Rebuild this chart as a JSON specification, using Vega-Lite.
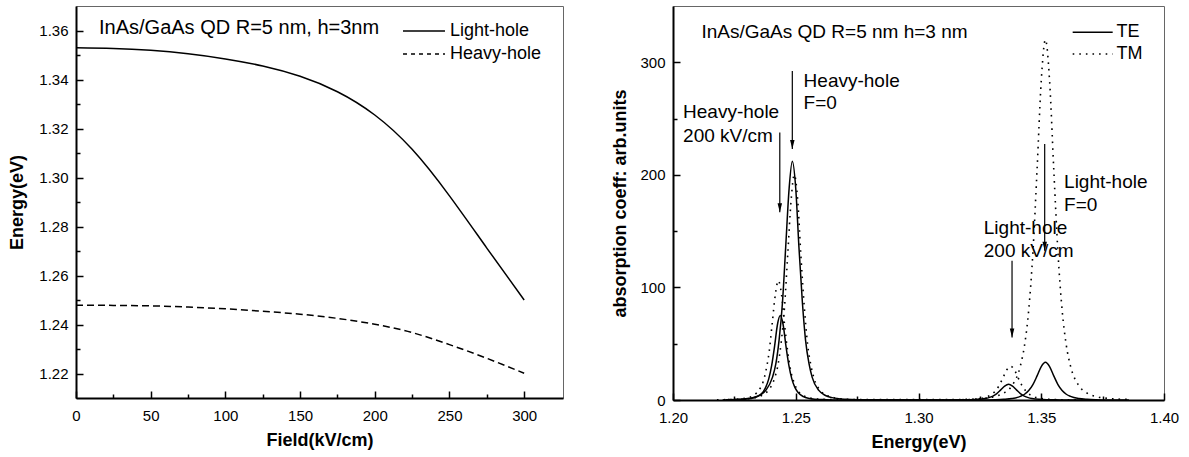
{
"$schema": "https://vega.github.io/schema/vega-lite/v6.json",
"background": "white",
"padding": {"left": 8, "top": 5, "right": 0, "bottom": 0},
"spacing": 47,
"config": {
  "font": "Liberation Sans",
  "view": {"stroke": "#666", "strokeWidth": 1},
  "axis": {"grid": false, "zindex": 1, "domainColor": "black", "domainWidth": 2, "tickColor": "black", "tickWidth": 1.5, "tickSize": -7,
    "labelFont": "Liberation Sans", "labelFontSize": 15, "labelColor": "black", "labelFlush": false, "labelOverlap": false,
    "titleFont": "Liberation Sans", "titleFontSize": 18, "titleFontWeight": "bold", "titleColor": "black"},
  "text": {"font": "Liberation Sans", "color": "black"}
},
"datasets": {
  "levels": [
    {"F":0,"E":1.3530,"band":"Light-hole"},{"F":25,"E":1.3527,"band":"Light-hole"},{"F":50,"E":1.3519,"band":"Light-hole"},{"F":75,"E":1.3505,"band":"Light-hole"},{"F":100,"E":1.3484,"band":"Light-hole"},{"F":125,"E":1.3455,"band":"Light-hole"},{"F":150,"E":1.3413,"band":"Light-hole"},{"F":175,"E":1.3350,"band":"Light-hole"},{"F":200,"E":1.3255,"band":"Light-hole"},{"F":225,"E":1.3115,"band":"Light-hole"},{"F":250,"E":1.2925,"band":"Light-hole"},{"F":275,"E":1.2712,"band":"Light-hole"},{"F":300,"E":1.2500,"band":"Light-hole"},
    {"F":0,"E":1.2479,"band":"Heavy-hole"},{"F":25,"E":1.2478,"band":"Heavy-hole"},{"F":50,"E":1.2476,"band":"Heavy-hole"},{"F":75,"E":1.2471,"band":"Heavy-hole"},{"F":100,"E":1.2464,"band":"Heavy-hole"},{"F":125,"E":1.2454,"band":"Heavy-hole"},{"F":150,"E":1.2442,"band":"Heavy-hole"},{"F":175,"E":1.2425,"band":"Heavy-hole"},{"F":200,"E":1.2401,"band":"Heavy-hole"},{"F":225,"E":1.2367,"band":"Heavy-hole"},{"F":250,"E":1.2318,"band":"Heavy-hole"},{"F":275,"E":1.2262,"band":"Heavy-hole"},{"F":300,"E":1.2201,"band":"Heavy-hole"}
  ],
  "legL": [
    {"F":218.9,"F2":247,"Ft":250.3,"E":1.3598,"band":"Light-hole"},
    {"F":218.9,"F2":247,"Ft":250.3,"E":1.3504,"band":"Heavy-hole"}
  ],
  "titleL": [{"F":15.4,"E":1.3610,"t":"InAs/GaAs QD R=5 nm, h=3nm"}],
  "spec": [
    {"E":1.2216,"A":0.3,"pol":"TE","fld":"F0"},{"E":1.227,"A":0.7,"pol":"TE","fld":"F0"},{"E":1.2324,"A":2.1,"pol":"TE","fld":"F0"},{"E":1.2351,"A":4.0,"pol":"TE","fld":"F0"},{"E":1.2378,"A":8.5,"pol":"TE","fld":"F0"},{"E":1.2405,"A":20.1,"pol":"TE","fld":"F0"},{"E":1.2419,"A":32.3,"pol":"TE","fld":"F0"},{"E":1.2432,"A":53,"pol":"TE","fld":"F0"},{"E":1.2446,"A":86.8,"pol":"TE","fld":"F0"},{"E":1.2459,"A":135.7,"pol":"TE","fld":"F0"},{"E":1.2473,"A":187.8,"pol":"TE","fld":"F0"},{"E":1.2486,"A":212,"pol":"TE","fld":"F0"},{"E":1.25,"A":187.8,"pol":"TE","fld":"F0"},{"E":1.2513,"A":135.7,"pol":"TE","fld":"F0"},{"E":1.2527,"A":86.8,"pol":"TE","fld":"F0"},{"E":1.254,"A":53,"pol":"TE","fld":"F0"},{"E":1.2554,"A":32.3,"pol":"TE","fld":"F0"},{"E":1.2567,"A":20.1,"pol":"TE","fld":"F0"},{"E":1.2594,"A":8.5,"pol":"TE","fld":"F0"},{"E":1.2621,"A":4.0,"pol":"TE","fld":"F0"},{"E":1.2648,"A":2.1,"pol":"TE","fld":"F0"},{"E":1.2702,"A":0.7,"pol":"TE","fld":"F0"},{"E":1.2756,"A":0.3,"pol":"TE","fld":"F0"},
    {"E":1.3177,"A":0.05,"pol":"TE","fld":"F0"},{"E":1.3245,"A":0.1,"pol":"TE","fld":"F0"},{"E":1.3313,"A":0.3,"pol":"TE","fld":"F0"},{"E":1.3347,"A":0.6,"pol":"TE","fld":"F0"},{"E":1.3381,"A":1.3,"pol":"TE","fld":"F0"},{"E":1.3415,"A":3.2,"pol":"TE","fld":"F0"},{"E":1.3432,"A":5.1,"pol":"TE","fld":"F0"},{"E":1.3449,"A":8.4,"pol":"TE","fld":"F0"},{"E":1.3466,"A":13.7,"pol":"TE","fld":"F0"},{"E":1.3483,"A":21.4,"pol":"TE","fld":"F0"},{"E":1.35,"A":29.7,"pol":"TE","fld":"F0"},{"E":1.3517,"A":33.5,"pol":"TE","fld":"F0"},{"E":1.3534,"A":29.7,"pol":"TE","fld":"F0"},{"E":1.3551,"A":21.4,"pol":"TE","fld":"F0"},{"E":1.3568,"A":13.7,"pol":"TE","fld":"F0"},{"E":1.3585,"A":8.4,"pol":"TE","fld":"F0"},{"E":1.3602,"A":5.1,"pol":"TE","fld":"F0"},{"E":1.3619,"A":3.2,"pol":"TE","fld":"F0"},{"E":1.3653,"A":1.3,"pol":"TE","fld":"F0"},{"E":1.3687,"A":0.6,"pol":"TE","fld":"F0"},{"E":1.3721,"A":0.3,"pol":"TE","fld":"F0"},{"E":1.3789,"A":0.1,"pol":"TE","fld":"F0"},{"E":1.3857,"A":0.05,"pol":"TE","fld":"F0"},
    {"E":1.2202,"A":0.1,"pol":"TE","fld":"F200"},{"E":1.2249,"A":0.3,"pol":"TE","fld":"F200"},{"E":1.2296,"A":0.75,"pol":"TE","fld":"F200"},{"E":1.232,"A":1.4,"pol":"TE","fld":"F200"},{"E":1.2343,"A":3.0,"pol":"TE","fld":"F200"},{"E":1.2367,"A":7.1,"pol":"TE","fld":"F200"},{"E":1.2378,"A":11.4,"pol":"TE","fld":"F200"},{"E":1.239,"A":18.75,"pol":"TE","fld":"F200"},{"E":1.2402,"A":30.7,"pol":"TE","fld":"F200"},{"E":1.2414,"A":48,"pol":"TE","fld":"F200"},{"E":1.2425,"A":66.4,"pol":"TE","fld":"F200"},{"E":1.2437,"A":75,"pol":"TE","fld":"F200"},{"E":1.2449,"A":66.4,"pol":"TE","fld":"F200"},{"E":1.246,"A":48,"pol":"TE","fld":"F200"},{"E":1.2472,"A":30.7,"pol":"TE","fld":"F200"},{"E":1.2484,"A":18.75,"pol":"TE","fld":"F200"},{"E":1.2496,"A":11.4,"pol":"TE","fld":"F200"},{"E":1.2508,"A":7.1,"pol":"TE","fld":"F200"},{"E":1.2531,"A":3.0,"pol":"TE","fld":"F200"},{"E":1.2555,"A":1.4,"pol":"TE","fld":"F200"},{"E":1.2578,"A":0.75,"pol":"TE","fld":"F200"},{"E":1.2625,"A":0.3,"pol":"TE","fld":"F200"},{"E":1.2672,"A":0.1,"pol":"TE","fld":"F200"},
    {"E":1.3047,"A":0.02,"pol":"TE","fld":"F200"},{"E":1.3111,"A":0.05,"pol":"TE","fld":"F200"},{"E":1.3175,"A":0.14,"pol":"TE","fld":"F200"},{"E":1.3207,"A":0.27,"pol":"TE","fld":"F200"},{"E":1.3239,"A":0.56,"pol":"TE","fld":"F200"},{"E":1.3271,"A":1.3,"pol":"TE","fld":"F200"},{"E":1.3287,"A":2.1,"pol":"TE","fld":"F200"},{"E":1.3303,"A":3.5,"pol":"TE","fld":"F200"},{"E":1.3319,"A":5.7,"pol":"TE","fld":"F200"},{"E":1.3335,"A":9.0,"pol":"TE","fld":"F200"},{"E":1.3351,"A":12.4,"pol":"TE","fld":"F200"},{"E":1.3367,"A":14,"pol":"TE","fld":"F200"},{"E":1.3383,"A":12.4,"pol":"TE","fld":"F200"},{"E":1.3399,"A":9.0,"pol":"TE","fld":"F200"},{"E":1.3415,"A":5.7,"pol":"TE","fld":"F200"},{"E":1.3431,"A":3.5,"pol":"TE","fld":"F200"},{"E":1.3447,"A":2.1,"pol":"TE","fld":"F200"},{"E":1.3463,"A":1.3,"pol":"TE","fld":"F200"},{"E":1.3495,"A":0.56,"pol":"TE","fld":"F200"},{"E":1.3527,"A":0.27,"pol":"TE","fld":"F200"},{"E":1.3559,"A":0.14,"pol":"TE","fld":"F200"},{"E":1.3623,"A":0.05,"pol":"TE","fld":"F200"},{"E":1.3687,"A":0.02,"pol":"TE","fld":"F200"},
    {"E":1.2224,"A":0.3,"pol":"TM","fld":"F0"},{"E":1.2278,"A":0.7,"pol":"TM","fld":"F0"},{"E":1.2332,"A":2.0,"pol":"TM","fld":"F0"},{"E":1.2359,"A":3.8,"pol":"TM","fld":"F0"},{"E":1.2386,"A":8.0,"pol":"TM","fld":"F0"},{"E":1.2413,"A":18.9,"pol":"TM","fld":"F0"},{"E":1.2427,"A":30.5,"pol":"TM","fld":"F0"},{"E":1.244,"A":50,"pol":"TM","fld":"F0"},{"E":1.2454,"A":81.9,"pol":"TM","fld":"F0"},{"E":1.2467,"A":128,"pol":"TM","fld":"F0"},{"E":1.2481,"A":177.2,"pol":"TM","fld":"F0"},{"E":1.2494,"A":200,"pol":"TM","fld":"F0"},{"E":1.2508,"A":177.2,"pol":"TM","fld":"F0"},{"E":1.2521,"A":128,"pol":"TM","fld":"F0"},{"E":1.2535,"A":81.9,"pol":"TM","fld":"F0"},{"E":1.2548,"A":50,"pol":"TM","fld":"F0"},{"E":1.2562,"A":30.5,"pol":"TM","fld":"F0"},{"E":1.2575,"A":18.9,"pol":"TM","fld":"F0"},{"E":1.2602,"A":8.0,"pol":"TM","fld":"F0"},{"E":1.2629,"A":3.8,"pol":"TM","fld":"F0"},{"E":1.2656,"A":2.0,"pol":"TM","fld":"F0"},{"E":1.271,"A":0.7,"pol":"TM","fld":"F0"},{"E":1.2764,"A":0.3,"pol":"TM","fld":"F0"},
    {"E":1.3177,"A":0.5,"pol":"TM","fld":"F0"},{"E":1.3245,"A":1.1,"pol":"TM","fld":"F0"},{"E":1.3313,"A":3.2,"pol":"TM","fld":"F0"},{"E":1.3347,"A":6.1,"pol":"TM","fld":"F0"},{"E":1.3381,"A":12.8,"pol":"TM","fld":"F0"},{"E":1.3415,"A":30.3,"pol":"TM","fld":"F0"},{"E":1.3432,"A":48.7,"pol":"TM","fld":"F0"},{"E":1.3449,"A":80,"pol":"TM","fld":"F0"},{"E":1.3466,"A":131.1,"pol":"TM","fld":"F0"},{"E":1.3483,"A":204.8,"pol":"TM","fld":"F0"},{"E":1.35,"A":283.5,"pol":"TM","fld":"F0"},{"E":1.3517,"A":320,"pol":"TM","fld":"F0"},{"E":1.3534,"A":283.5,"pol":"TM","fld":"F0"},{"E":1.3551,"A":204.8,"pol":"TM","fld":"F0"},{"E":1.3568,"A":131.1,"pol":"TM","fld":"F0"},{"E":1.3585,"A":80,"pol":"TM","fld":"F0"},{"E":1.3602,"A":48.7,"pol":"TM","fld":"F0"},{"E":1.3619,"A":30.3,"pol":"TM","fld":"F0"},{"E":1.3653,"A":12.8,"pol":"TM","fld":"F0"},{"E":1.3687,"A":6.1,"pol":"TM","fld":"F0"},{"E":1.3721,"A":3.2,"pol":"TM","fld":"F0"},{"E":1.3789,"A":1.1,"pol":"TM","fld":"F0"},{"E":1.3857,"A":0.5,"pol":"TM","fld":"F0"},
    {"E":1.2179,"A":0.2,"pol":"TM","fld":"F200"},{"E":1.2229,"A":0.4,"pol":"TM","fld":"F200"},{"E":1.2279,"A":1.1,"pol":"TM","fld":"F200"},{"E":1.2304,"A":2.0,"pol":"TM","fld":"F200"},{"E":1.2329,"A":4.2,"pol":"TM","fld":"F200"},{"E":1.2354,"A":10.0,"pol":"TM","fld":"F200"},{"E":1.2367,"A":16.1,"pol":"TM","fld":"F200"},{"E":1.2379,"A":26.5,"pol":"TM","fld":"F200"},{"E":1.2392,"A":43.4,"pol":"TM","fld":"F200"},{"E":1.2404,"A":67.8,"pol":"TM","fld":"F200"},{"E":1.2417,"A":93.9,"pol":"TM","fld":"F200"},{"E":1.2429,"A":106,"pol":"TM","fld":"F200"},{"E":1.2442,"A":93.9,"pol":"TM","fld":"F200"},{"E":1.2454,"A":67.8,"pol":"TM","fld":"F200"},{"E":1.2467,"A":43.4,"pol":"TM","fld":"F200"},{"E":1.2479,"A":26.5,"pol":"TM","fld":"F200"},{"E":1.2492,"A":16.1,"pol":"TM","fld":"F200"},{"E":1.2504,"A":10.0,"pol":"TM","fld":"F200"},{"E":1.2529,"A":4.2,"pol":"TM","fld":"F200"},{"E":1.2554,"A":2.0,"pol":"TM","fld":"F200"},{"E":1.2579,"A":1.1,"pol":"TM","fld":"F200"},{"E":1.2629,"A":0.4,"pol":"TM","fld":"F200"},{"E":1.2679,"A":0.2,"pol":"TM","fld":"F200"},
    {"E":1.3055,"A":0.04,"pol":"TM","fld":"F200"},{"E":1.3119,"A":0.1,"pol":"TM","fld":"F200"},{"E":1.3183,"A":0.3,"pol":"TM","fld":"F200"},{"E":1.3215,"A":0.57,"pol":"TM","fld":"F200"},{"E":1.3247,"A":1.2,"pol":"TM","fld":"F200"},{"E":1.3279,"A":2.8,"pol":"TM","fld":"F200"},{"E":1.3295,"A":4.6,"pol":"TM","fld":"F200"},{"E":1.3311,"A":7.5,"pol":"TM","fld":"F200"},{"E":1.3327,"A":12.3,"pol":"TM","fld":"F200"},{"E":1.3343,"A":19.2,"pol":"TM","fld":"F200"},{"E":1.3359,"A":26.6,"pol":"TM","fld":"F200"},{"E":1.3375,"A":30,"pol":"TM","fld":"F200"},{"E":1.3391,"A":26.6,"pol":"TM","fld":"F200"},{"E":1.3407,"A":19.2,"pol":"TM","fld":"F200"},{"E":1.3423,"A":12.3,"pol":"TM","fld":"F200"},{"E":1.3439,"A":7.5,"pol":"TM","fld":"F200"},{"E":1.3455,"A":4.6,"pol":"TM","fld":"F200"},{"E":1.3471,"A":2.8,"pol":"TM","fld":"F200"},{"E":1.3503,"A":1.2,"pol":"TM","fld":"F200"},{"E":1.3535,"A":0.57,"pol":"TM","fld":"F200"},{"E":1.3567,"A":0.3,"pol":"TM","fld":"F200"},{"E":1.3631,"A":0.1,"pol":"TM","fld":"F200"},{"E":1.3695,"A":0.04,"pol":"TM","fld":"F200"}
  ],
  "legR": [
    {"E":1.3628,"E2":1.3791,"Et":1.3807,"A":326.6,"pol":"TE"},
    {"E":1.3628,"E2":1.3791,"Et":1.3807,"A":307.4,"pol":"TM"}
  ],
  "annR": [
    {"E":1.2116,"A":326.6,"t":"InAs/GaAs QD R=5 nm h=3 nm"},
    {"E":1.2532,"A":283.6,"t":"Heavy-hole"},{"E":1.2532,"A":264.1,"t":"F=0"},
    {"E":1.2041,"A":256.1,"t":"Heavy-hole"},{"E":1.2041,"A":234.8,"t":"200 kV/cm"},
    {"E":1.3593,"A":193.3,"t":"Light-hole"},{"E":1.3593,"A":173.5,"t":"F=0"},
    {"E":1.3266,"A":152.4,"t":"Light-hole"},{"E":1.3266,"A":132.0,"t":"200 kV/cm"}
  ],
  "arrows": [
    {"E":1.2486,"A":292.2,"A2":223.0,"Ah":227.0},
    {"E":1.2435,"A":237.7,"A2":166.7,"Ah":170.7},
    {"E":1.3514,"A":227.4,"A2":132.6,"Ah":136.6},
    {"E":1.3381,"A":123.7,"A2":55.6,"Ah":59.6}
  ]
},
"hconcat": [
  {
    "width": 487, "height": 392,
    "encoding": {
      "x": {"type": "quantitative", "scale": {"domain": [0, 326], "nice": false, "zero": false},
            "axis": {"title": "Field(kV/cm)", "values": [0,25,50,75,100,125,150,175,200,225,250,275,300],
                     "tickDash": {"condition": {"test": "datum.value % 50 === 0", "value": [7, 0]}, "value": [4, 20]},
                     "labelPadding": 17, "labelExpr": "datum.value % 50 === 0 ? datum.label : ''", "titlePadding": 8}},
      "y": {"type": "quantitative", "scale": {"domain": [1.21, 1.37], "nice": false, "zero": false},
            "axis": {"title": "Energy(eV)", "values": [1.22,1.23,1.24,1.25,1.26,1.27,1.28,1.29,1.30,1.31,1.32,1.33,1.34,1.35,1.36],
                     "format": ".2f",
                     "tickDash": {"condition": {"test": "round(datum.value*100) % 2 === 0", "value": [7, 0]}, "value": [4, 20]},
                     "labelPadding": 15, "labelExpr": "round(datum.value*100) % 2 === 0 ? datum.label : ''", "titlePadding": 12}}
    },
    "layer": [
      {"data": {"name": "levels"}, "transform": [{"filter": "datum.band === 'Light-hole'"}],
       "mark": {"type": "line", "interpolate": "natural", "color": "black", "strokeWidth": 1.5},
       "encoding": {"x": {"field": "F"}, "y": {"field": "E"}}},
      {"data": {"name": "levels"}, "transform": [{"filter": "datum.band === 'Heavy-hole'"}],
       "mark": {"type": "line", "interpolate": "natural", "color": "black", "strokeWidth": 1.5, "strokeDash": [7, 4]},
       "encoding": {"x": {"field": "F"}, "y": {"field": "E"}}},
      {"data": {"name": "legL"}, "transform": [{"filter": "datum.band === 'Light-hole'"}],
       "mark": {"type": "rule", "color": "black", "strokeWidth": 1.5},
       "encoding": {"x": {"field": "F"}, "x2": {"field": "F2"}, "y": {"field": "E"}}},
      {"data": {"name": "legL"}, "transform": [{"filter": "datum.band === 'Heavy-hole'"}],
       "mark": {"type": "rule", "color": "black", "strokeWidth": 1.5, "strokeDash": [4, 4]},
       "encoding": {"x": {"field": "F"}, "x2": {"field": "F2"}, "y": {"field": "E"}}},
      {"data": {"name": "legL"},
       "mark": {"type": "text", "align": "left", "baseline": "middle", "fontSize": 18, "font": "Liberation Sans"},
       "encoding": {"x": {"field": "Ft"}, "y": {"field": "E"}, "text": {"field": "band"}}},
      {"data": {"name": "titleL"},
       "mark": {"type": "text", "align": "left", "baseline": "middle", "fontSize": 20, "font": "Liberation Sans"},
       "encoding": {"x": {"field": "F"}, "y": {"field": "E"}, "text": {"field": "t"}}}
    ]
  },
  {
    "width": 491, "height": 394,
    "encoding": {
      "x": {"type": "quantitative", "scale": {"domain": [1.2, 1.4], "nice": false, "zero": false},
            "axis": {"title": "Energy(eV)", "values": [1.2,1.225,1.25,1.275,1.3,1.325,1.35,1.375,1.4], "format": ".2f",
                     "tickDash": {"condition": {"test": "round(datum.value*1000) % 50 === 0", "value": [7, 0]}, "value": [4, 20]},
                     "labelPadding": 17, "labelExpr": "round(datum.value*1000) % 50 === 0 ? datum.label : ''", "titlePadding": 8}},
      "y": {"type": "quantitative", "scale": {"domain": [0, 350], "nice": false},
            "axis": {"title": "absorption coeff: arb.units", "values": [0,50,100,150,200,250,300],
                     "tickDash": {"condition": {"test": "datum.value % 100 === 0", "value": [7, 0]}, "value": [4, 20]},
                     "labelPadding": 15, "labelExpr": "datum.value % 100 === 0 ? datum.label : ''", "titlePadding": 10}}
    },
    "layer": [
      {"data": {"name": "spec"}, "transform": [{"filter": "datum.pol === 'TE'"}],
       "mark": {"type": "line", "interpolate": "monotone", "color": "black", "strokeWidth": 1.5},
       "encoding": {"x": {"field": "E"}, "y": {"field": "A"}, "detail": {"field": "fld", "type": "nominal"}}},
      {"data": {"name": "spec"}, "transform": [{"filter": "datum.pol === 'TM'"}],
       "mark": {"type": "line", "interpolate": "monotone", "color": "black", "strokeWidth": 1.6, "strokeDash": [1.6, 5]},
       "encoding": {"x": {"field": "E"}, "y": {"field": "A"}, "detail": {"field": "fld", "type": "nominal"}}},
      {"data": {"name": "legR"}, "transform": [{"filter": "datum.pol === 'TE'"}],
       "mark": {"type": "rule", "color": "black", "strokeWidth": 1.5},
       "encoding": {"x": {"field": "E"}, "x2": {"field": "E2"}, "y": {"field": "A"}}},
      {"data": {"name": "legR"}, "transform": [{"filter": "datum.pol === 'TM'"}],
       "mark": {"type": "rule", "color": "black", "strokeWidth": 1.6, "strokeDash": [1.6, 5]},
       "encoding": {"x": {"field": "E"}, "x2": {"field": "E2"}, "y": {"field": "A"}}},
      {"data": {"name": "legR"},
       "mark": {"type": "text", "align": "left", "baseline": "middle", "fontSize": 18, "font": "Liberation Sans"},
       "encoding": {"x": {"field": "Et"}, "y": {"field": "A"}, "text": {"field": "pol"}}},
      {"data": {"name": "annR"},
       "mark": {"type": "text", "align": "left", "baseline": "middle", "fontSize": 19, "font": "Liberation Sans"},
       "encoding": {"x": {"field": "E"}, "y": {"field": "A"}, "text": {"field": "t"}}},
      {"data": {"name": "arrows"},
       "mark": {"type": "rule", "color": "black", "strokeWidth": 1.2},
       "encoding": {"x": {"field": "E"}, "y": {"field": "A"}, "y2": {"field": "A2"}}},
      {"data": {"name": "arrows"},
       "mark": {"type": "point", "shape": "M-0.5,-1L0.5,-1L0,1Z", "filled": true, "color": "black", "opacity": 1, "size": 81},
       "encoding": {"x": {"field": "E"}, "y": {"field": "Ah"}}}
    ]
  }
]
}
